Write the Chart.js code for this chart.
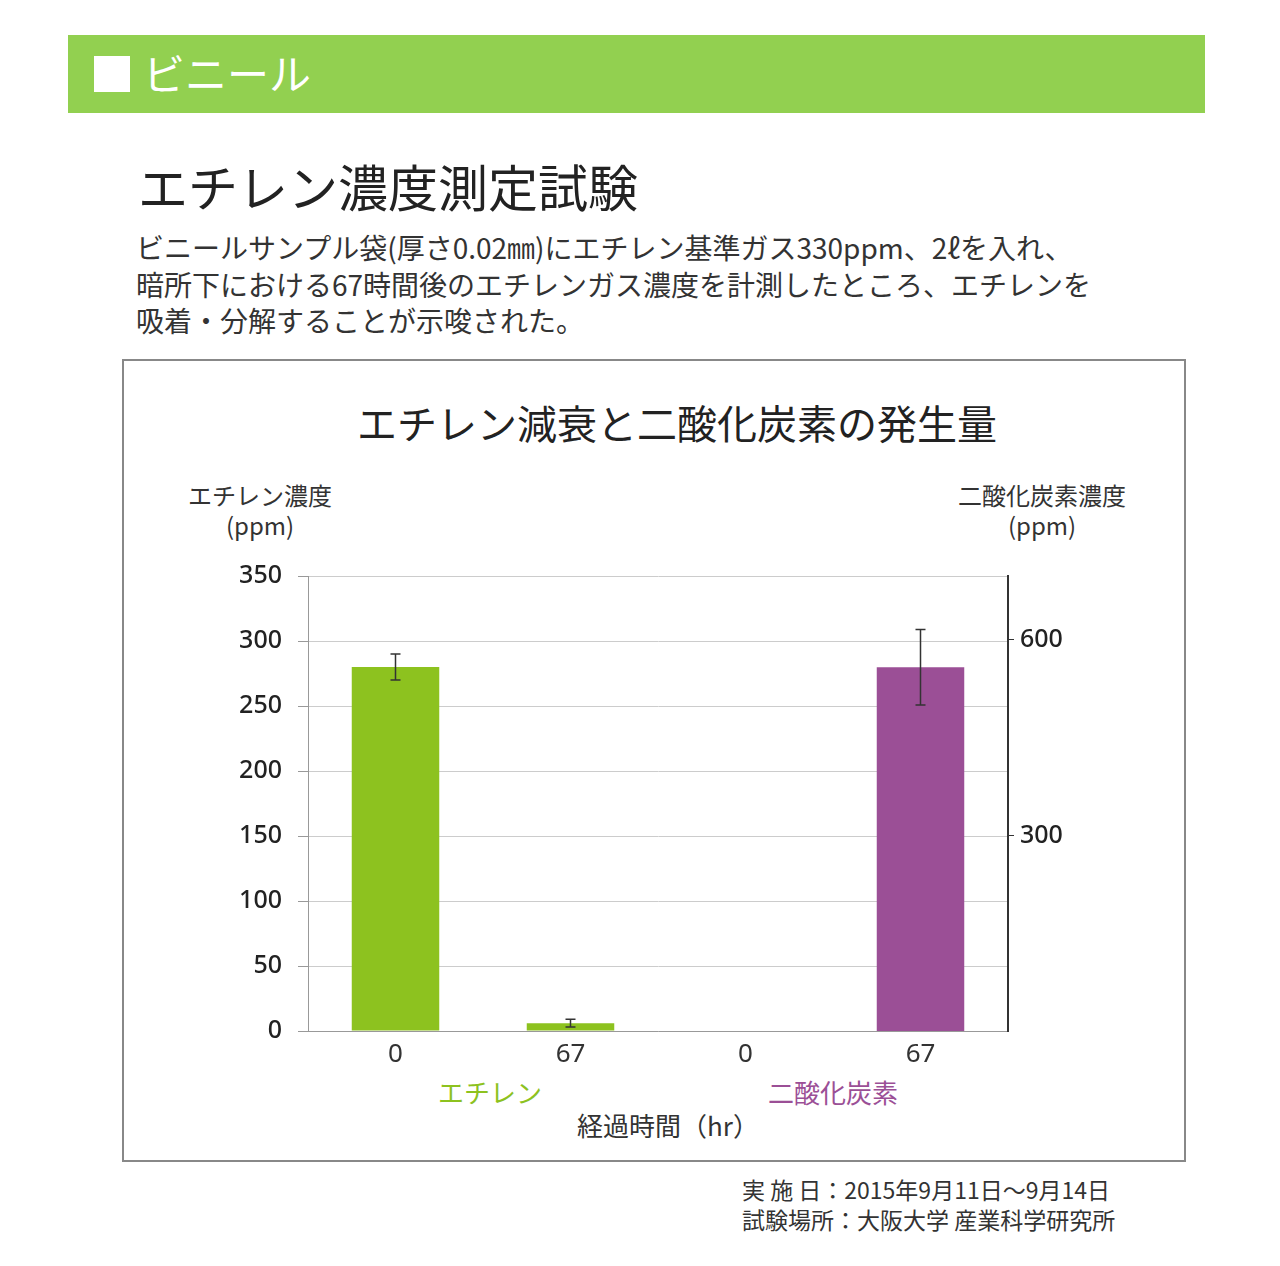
<!DOCTYPE html>
<html><head><meta charset="utf-8">
<script src="https://cdn.jsdelivr.net/npm/chart.js@4"></script>
<style>
body{margin:0;width:1280px;height:1266px;background:#fff;font-family:"Noto Sans CJK JP","Noto Sans",sans-serif;color:#222;position:relative;overflow:hidden}
.a{position:absolute;white-space:nowrap}
</style></head><body>
<div class="a" style="left:68px;top:35px;width:1137px;height:78px;background:#92d050"></div>
<div class="a" style="left:94px;top:56px;width:36px;height:36px;background:#fff"></div>
<div class="a" style="left:143px;top:44px;font-size:42px;color:#fff;line-height:56px">ビニール</div>
<div class="a" style="left:138px;top:150px;font-size:50px;line-height:70px">エチレン濃度測定試験</div>
<div class="a" style="left:136px;top:229px;font-size:28px;line-height:36.5px;color:#333">ビニールサンプル袋(厚さ0.02㎜)にエチレン基準ガス330ppm、2ℓを入れ、<br>暗所下における67時間後のエチレンガス濃度を計測したところ、エチレンを<br>吸着・分解することが示唆された。</div>
<div class="a" style="left:122px;top:359px;width:1060px;height:799px;border:2px solid #888"></div>
<div class="a" style="left:122px;top:392px;width:1110px;text-align:center;font-size:40px;line-height:60px">エチレン減衰と二酸化炭素の発生量</div>
<div class="a" style="left:160px;top:480px;width:200px;text-align:center;font-size:24px;line-height:30px;color:#333">エチレン濃度<br>(ppm)</div>
<div class="a" style="left:942px;top:480px;width:200px;text-align:center;font-size:24px;line-height:30px;color:#333">二酸化炭素濃度<br>(ppm)</div>
<div class="a" style="left:390px;top:1073px;width:200px;text-align:center;font-size:26px;color:#8dc21f">エチレン</div>
<div class="a" style="left:733px;top:1073px;width:200px;text-align:center;font-size:26px;color:#9b4f96">二酸化炭素</div>
<div class="a" style="left:518px;top:1106px;width:300px;text-align:center;font-size:26px;color:#333">経過時間（hr）</div>
<div class="a" style="left:742px;top:1174px;font-size:23px;line-height:30px;color:#333">実 施 日：2015年9月11日～9月14日<br>試験場所：大阪大学 産業科学研究所</div>
<div class="a" style="left:122px;top:545px;width:1062px;height:535px"><canvas id="c"></canvas></div>
<script>
const categories = ['0', '67', '0', '67'];
const ethylene = [280, 6, null, null];
const ethyleneErr = [10, 3, null, null];
const co2 = [null, null, 0, 558];
const co2Err = [null, null, null, 58];
const leftTicks = [0, 50, 100, 150, 200, 250, 300, 350];
const rightTicks = [300, 600];

const errorBars = {
  id: 'errorBars',
  afterDatasetsDraw(chart) {
    const c = chart.ctx;
    c.save();
    c.strokeStyle = '#333';
    c.lineWidth = 1.5;
    [[ethylene, ethyleneErr, 'y'], [co2, co2Err, 'y1']].forEach(([vals, errs, ax]) => {
      const sc = chart.scales[ax];
      vals.forEach((v, i) => {
        if (v == null || errs[i] == null) return;
        const x = chart.scales.x.getPixelForValue(i);
        const t = sc.getPixelForValue(v + errs[i]), b = sc.getPixelForValue(v - errs[i]);
        c.beginPath();
        c.moveTo(x, t); c.lineTo(x, b);
        c.moveTo(x - 5, t); c.lineTo(x + 5, t);
        c.moveTo(x - 5, b); c.lineTo(x + 5, b);
        c.stroke();
      });
    });
    c.restore();
  }
};

new Chart(document.getElementById('c'), {
  type: 'bar',
  data: {
    labels: categories,
    datasets: [
      { data: ethylene, backgroundColor: '#8dc21f', yAxisID: 'y' },
      { data: co2, backgroundColor: '#9b4f96', yAxisID: 'y1' }
    ]
  },
  options: {
    animation: false,
    responsive: true,
    maintainAspectRatio: false,
    grouped: false,
    categoryPercentage: 1,
    barPercentage: 0.5,
    layout: { padding: { top: 17 } },
    plugins: { legend: { display: false }, tooltip: { enabled: false } },
    scales: {
      x: {
        grid: { display: false, drawTicks: false },
        border: { color: '#999' },
        ticks: { color: '#333', font: { size: 26, family: 'Noto Sans' }, padding: 8 },
        afterFit(s) { s.height = 49; }
      },
      y: {
        min: 0, max: 350,
        afterBuildTicks(s) { s.ticks = leftTicks.map(v => ({ value: v })); },
        grid: { color: '#ccc', tickLength: 10, tickColor: '#999' },
        border: { color: '#999' },
        ticks: { color: '#222', font: { size: 25, family: 'Noto Sans', weight: '500' }, padding: 16 },
        afterFit(s) { s.width = 186; }
      },
      y1: {
        position: 'right', min: 0, max: 698,
        afterBuildTicks(s) { s.ticks = rightTicks.map(v => ({ value: v })); },
        grid: { drawOnChartArea: false, tickLength: 6, tickColor: '#333' },
        border: { color: '#333', width: 2 },
        ticks: { color: '#222', font: { size: 25, family: 'Noto Sans', weight: '500' }, padding: 6 },
        afterFit(s) { s.width = 176; }
      }
    }
  },
  plugins: [errorBars]
});
</script>
</body></html>
